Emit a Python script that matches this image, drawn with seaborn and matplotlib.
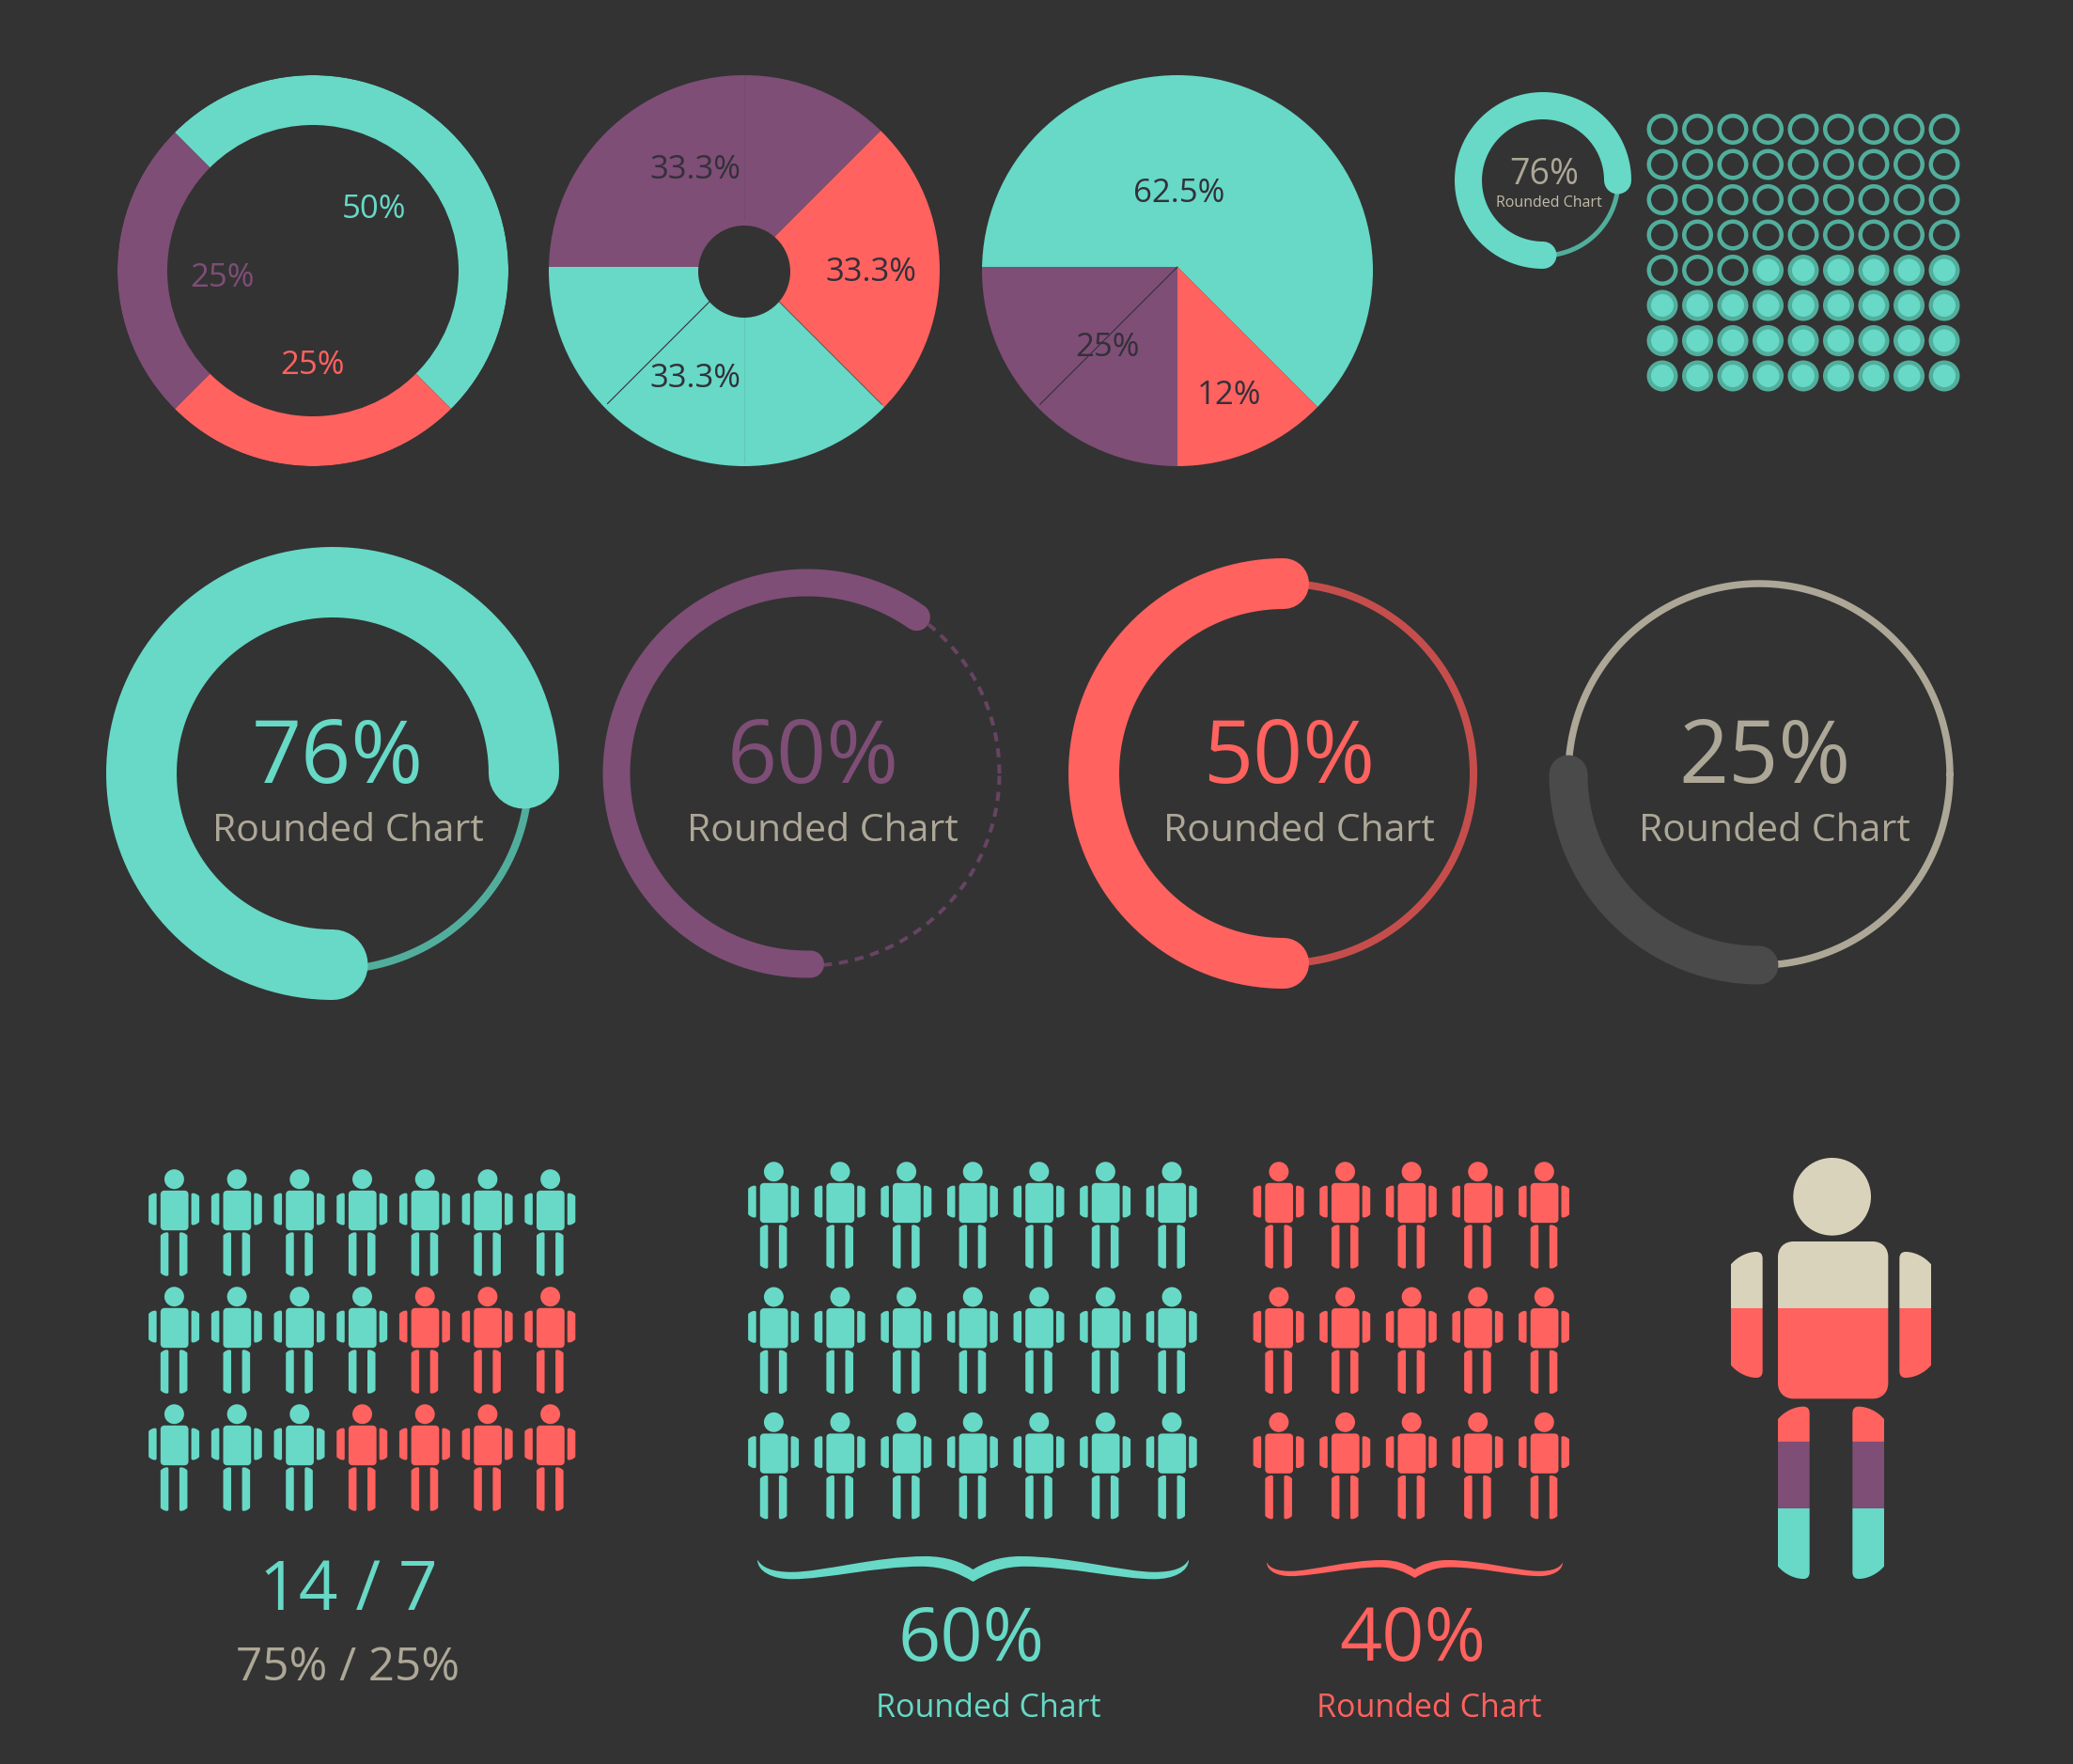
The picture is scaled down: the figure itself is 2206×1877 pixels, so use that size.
#!/usr/bin/env python3
# plot.py - infographic with donuts, rounded rings and pictograms

import numpy as np
import pandas as pd
import matplotlib
matplotlib.use("Agg")
import matplotlib.pyplot as plt
from matplotlib.patches import Circle, PathPatch
from matplotlib.path import Path
from matplotlib.transforms import Affine2D
import seaborn as sns

W, H = 2206, 1877
BG = "#333333"
TEAL = "#67D9C6"
TEAL_DIM = "#52AE9C"
PURPLE = "#7E4E76"
PURPLE_DIM = "#664462"
RED = "#FF625F"
RED_DIM = "#C54E4C"
SAND = "#ADA797"
BEIGE = "#DAD3BC"
GREY = "#4A4A4A"
DARK = "#33303A"

# ---- data ----
donut_shares = [50, 25, 25]
donut_labels = ["50%", "25%", "25%"]
pie2_shares = [25, 37.5, 37.5]
pie2_labels = ["33.3%", "33.3%", "33.3%"]
pie3_shares = [62.5, 12.5, 25]
pie3_labels = ["62.5%", "12%", "25%"]
ring_values = [76, 60, 50, 25]
ring_labels = ["76%", "60%", "50%", "25%"]
small_ring_value = 76
dot_rows, dot_cols = 8, 9
dots_empty = 39
left_people_teal = [7, 4, 3]
left_people_red = [0, 3, 4]
mid_people_teal = [7, 7, 7]
mid_people_red = [5, 5, 5]
figure_band_colors = [BEIGE, RED, PURPLE, TEAL]
figure_band_edges = [1225, 1392, 1534, 1605, 1690]

plt.rcParams["figure.facecolor"] = BG
sns.set_style("dark", {"axes.facecolor": BG, "figure.facecolor": BG})
plt.rcParams["font.family"] = ["Open Sans", "DejaVu Sans"]

fig = plt.figure(figsize=(W / 100, H / 100), dpi=100, facecolor=BG)
ax = fig.add_axes([0, 0, 1, 1])


def Y(py):
    return H - py


def px(v):
    return v * 0.72


def txt(x, y, s, size, color, **kw):
    ax.text(x, Y(y), s, fontsize=size, color=color, ha="center", va="center", zorder=6, **kw)


def pie_chart(cx, cy, shares, colors, start, wedge_cy=None, width=None):
    # wedge centre may sit a little off the circle centre, as in the source artwork
    wc = cy if wedge_cy is None else wedge_cy
    R = 208
    wedges, _ = ax.pie(shares, colors=colors, startangle=start, counterclock=False,
                       radius=R * 1.06 if wedge_cy else R, center=(cx, Y(wc)),
                       wedgeprops=dict(width=width, linewidth=0) if width else dict(linewidth=0))
    clip = Path.circle((cx, Y(cy)), R)
    for w in wedges:
        w.set_clip_path(clip, ax.transData)
        w.set_clip_on(True)  # pie turns clipping off on its wedges
        w.set_zorder(2)


def seam(cx, cy, deg, r0, r1, color=DARK, lw=0.8, alpha=1.0):
    a = np.deg2rad(deg)
    ax.plot([cx + r0 * np.cos(a), cx + r1 * np.cos(a)],
            [Y(cy) + r0 * np.sin(a), Y(cy) + r1 * np.sin(a)],
            color=color, lw=lw, alpha=alpha, zorder=3)


def arc(cx, cy, r, start_deg, pct, color, width, **kw):
    t = np.deg2rad(np.linspace(start_deg, start_deg + pct * 3.6, 240))
    sns.lineplot(x=cx + r * np.cos(t), y=Y(cy) + r * np.sin(t), sort=False, estimator=None,
                 errorbar=None, color=color, linewidth=px(width), ax=ax, legend=False, **kw)


# ---- top row: donut and pies ----
pie_chart(333, 288, donut_shares, [TEAL, RED, PURPLE], 135, width=53)
txt(398, 223, donut_labels[0], 25, TEAL)
txt(236, 296, donut_labels[1], 25, PURPLE)
txt(332, 389, donut_labels[2], 25, RED)

pie_chart(792, 288, pie2_shares, [RED, TEAL, PURPLE], 45, wedge_cy=284)
ax.add_patch(Circle((792, Y(289)), 49, color=BG, zorder=3, lw=0))
seam(792, 284, 225, 52, 206)
seam(792, 284, -45, 52, 207, alpha=0.5)
seam(792, 284, 90, 50, 204, lw=0.5, alpha=0.15)
seam(792, 284, 270, 50, 208, lw=0.5, alpha=0.15)
txt(740, 181, pie2_labels[0], 25, DARK)
txt(927, 290, pie2_labels[1], 25, DARK)
txt(740, 403, pie2_labels[2], 25, DARK)

pie_chart(1253, 288, pie3_shares, [TEAL, RED, PURPLE], 180, wedge_cy=284)
seam(1253, 284, 225, 0, 207)
txt(1255, 206, pie3_labels[0], 25, DARK)
txt(1308, 421, pie3_labels[1], 25, DARK)
txt(1179, 370, pie3_labels[2], 25, DARK)

# ---- small ring ----
arc(1642, 192, 80, 0, 100, TEAL_DIM, 5)
arc(1642, 192, 79.5, 0, small_ring_value - 1, TEAL, 29, solid_capstyle="round")
txt(1643, 186, "76%", 27, SAND)
txt(1648, 216, "Rounded Chart", 11.5, "#C2BCAA")

# ---- dot matrix ----
rows, cols = np.mgrid[0:dot_rows, 0:dot_cols]
dots = pd.DataFrame({"col": cols.ravel(), "row": rows.ravel()})
dots["filled"] = np.arange(len(dots)) >= dots_empty
dots["x"] = 1769 + dots["col"] * 37.5
dots["y"] = Y(137.5 + dots["row"] * 37.5)
sns.scatterplot(data=dots, x="x", y="y", hue="filled", palette={False: BG, True: TEAL},
                s=px(28.5) ** 2, edgecolor=TEAL_DIM, linewidth=px(4.5), legend=False, ax=ax, zorder=3)

# ---- big rings ----
ring_cx = [354, 859, 1366, 1872]
arc(ring_cx[0], 823, 209, 0, 100, TEAL_DIM, 8)
arc(ring_cx[0], 823, 203.5, 0, ring_values[0] - 1, TEAL, 75, solid_capstyle="round")

arc(ring_cx[1], 823, 204.5, 0, 100, PURPLE_DIM, 4, linestyle=(0, (2.4, 1.9)))
arc(ring_cx[1], 823, 203, 55, ring_values[1], PURPLE, 29, solid_capstyle="round")

arc(ring_cx[2], 823, 202, 0, 100, RED_DIM, 8)
arc(ring_cx[2], 823, 202, 90, ring_values[2], RED, 54, solid_capstyle="round")

arc(ring_cx[3], 824, 203, 0, 100, SAND, 7.5)
arc(ring_cx[3], 824, 203, 180, ring_values[3], GREY, 41, solid_capstyle="round")

for lab, col, xc in zip(ring_labels, [TEAL, PURPLE, RED, SAND], [359, 865, 1372, 1878]):
    txt(xc, 808, lab, 67, col)
for xc in [370, 875, 1382, 1888]:
    txt(xc, 885, "Rounded Chart", 29.5, SAND)


# ---- person pictogram (outline, in zoom units) ----
def person_path():
    def Z(x, y):
        return ((x - 448) / 3, (738 - y) / 3)

    M, L, C, X = Path.MOVETO, Path.LINETO, Path.CURVE4, Path.CLOSEPOLY

    def shape(pts, codes):
        return Path([Z(*p) for p in pts], codes)

    head = Path.circle(Z(447, 190), 124 / 3)
    r = 50
    l, t, rr, b = 274, 333, 626, 835
    torso = shape([(l + r, t), (rr - r, t), (rr - 20, t), (rr, t + 20), (rr, t + r), (rr, b - r), (rr, b - 20),
                   (rr - 20, b), (rr - r, b), (l + r, b), (l + 20, b), (l, b - 20), (l, b - r), (l, t + r),
                   (l, t + 20), (l + 20, t), (l + r, t), (l + r, t)],
                  [M, L, C, C, C, L, C, C, C, L, C, C, C, L, C, C, C, X])

    def limb(x0, x1, top, bot, flip):
        # x0 outer edge, x1 inner edge
        f = (lambda v: 887 - v) if flip else (lambda v: v)
        pts = [(x0, top + 40), (x0 + 22, top + 14), (x0 + 55, top), (x1 - 20, top), (x1 - 6, top), (x1, top + 8),
               (x1, top + 22), (x1, bot - 22), (x1, bot - 8), (x1 - 6, bot), (x1 - 20, bot), (x0 + 55, bot),
               (x0 + 22, bot - 14), (x0, bot - 40), (x0, top + 40)]
        pts = [(f(a), c) for a, c in pts]
        return shape(pts, [M, C, C, C, C, C, C, L, C, C, C, C, C, C, X])

    parts = [head, torso,
             limb(124, 225, 366, 768, False), limb(124, 225, 366, 768, True),
             limb(274, 375, 860, 1410, False), limb(274, 375, 860, 1410, True)]
    return Path.make_compound_path(*parts)


PERSON = person_path()


def people(x0, y0, step_x, step_y, teal_counts, red_counts):
    rows_, cols_, kinds = [], [], []
    for i, (a, b) in enumerate(zip(teal_counts, red_counts)):
        for j in range(a + b):
            rows_.append(i)
            cols_.append(j)
            kinds.append("teal" if j < a else "red")
    df = pd.DataFrame({"r": rows_, "c": cols_, "kind": kinds})
    df["x"] = x0 + df["c"] * step_x
    df["y"] = Y(y0 + df["r"] * step_y)
    sns.scatterplot(data=df, x="x", y="y", hue="kind", palette={"teal": TEAL, "red": RED},
                    marker=PERSON, s=px(113.5) ** 2, linewidth=0, edgecolor="none",
                    legend=False, ax=ax, zorder=3)


people(185.5, 1301, 66.7, 125, left_people_teal, left_people_red)
people(823.5, 1293, 70.6, 133.3, mid_people_teal, [0, 0, 0])
people(1361, 1293, 70.6, 133.3, [0, 0, 0], mid_people_red)

# ---- big figure, coloured in horizontal bands ----
fig_tf = Affine2D().translate(1950, Y(1456)) + ax.transData
for col, top, bot in zip(figure_band_colors, figure_band_edges[:-1], figure_band_edges[1:]):
    band = ax.axhspan(Y(bot), Y(top), color=col, lw=0, zorder=3)
    band.set_clip_path(PERSON, fig_tf)


# ---- braces ----
def brace(x0, x1, y0, y1, color):
    half = [(-1, .13), (-.98, .45), (-.93, .62), (-.84, .62), (-.70, .62), (-.45, 0), (-.22, 0),
            (-.12, 0), (-.05, .25), (0, .52)]
    low = [(0, 1), (-.07, .65), (-.14, .40), (-.24, .40), (-.45, .40), (-.68, .90), (-.84, .90),
           (-.93, .90), (-1, .6), (-1, .13)]
    m = [(-u, v) for u, v in half[::-1]]
    n = [(-u, v) for u, v in low[::-1]]
    pts = half + m[1:] + n[1:] + low[1:]
    codes = [Path.MOVETO] + [Path.CURVE4] * (len(pts) - 1)
    xc, hw = (x0 + x1) / 2, (x1 - x0) / 2
    v = [(xc + u * hw, Y(y0 + t * (y1 - y0))) for u, t in pts]
    ax.add_patch(PathPatch(Path(v, codes), facecolor=color, edgecolor="none", zorder=3))


brace(806, 1265, 1656, 1683, TEAL)
brace(1348, 1663, 1660, 1679, RED)

# ---- bottom texts ----
txt(371, 1694, "14 / 7", 52.5, TEAL)
txt(370, 1775, "75% / 25%", 35.5, SAND)
txt(1034, 1747, "60%", 57, TEAL)
txt(1503, 1747, "40%", 57, RED)
txt(1052, 1818, "Rounded Chart", 24.5, TEAL)
txt(1521, 1818, "Rounded Chart", 24.5, RED)

ax.set_xlim(0, W)
ax.set_ylim(0, H)
ax.axis("off")

fig.savefig("out.png", dpi=100, facecolor=BG)
